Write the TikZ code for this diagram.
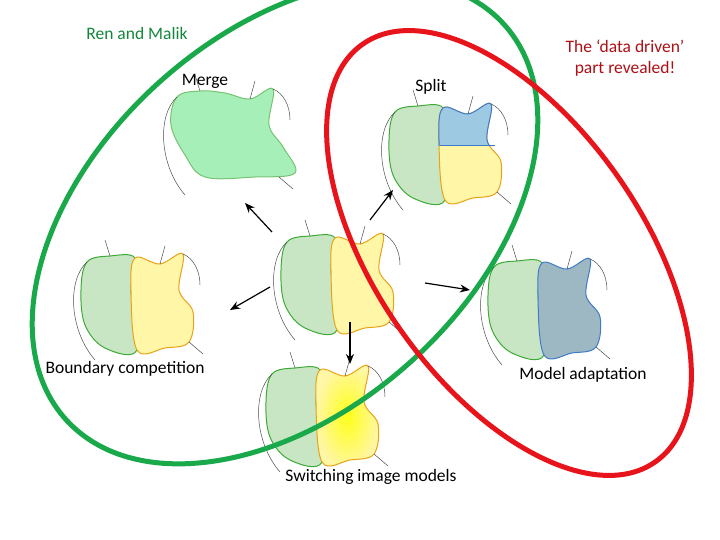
\documentclass[tikz,border=0pt]{standalone}
\usepackage{fontspec}
\setmainfont{Carlito}
\usetikzlibrary{arrows.meta}
\definecolor{lg}{HTML}{C8E6C4}\definecolor{dg}{HTML}{3DAA35}
\definecolor{ly}{HTML}{FFF6A8}\definecolor{dy}{HTML}{E8A317}
\definecolor{lb}{HTML}{9DC9E3}\definecolor{db}{HTML}{3E7CC9}
\definecolor{mg}{HTML}{A6EFB9}\definecolor{gb}{HTML}{9DB7C3}
\definecolor{eg}{HTML}{19A84A}\definecolor{er}{HTML}{E8141B}
\tikzset{lbl/.style={font=\fontsize{17.5}{21}\selectfont,align=center},
 arr/.style={-{Stealth[length=10pt,width=8pt]},line width=1.2pt},
 thin/.style={line width=0.5pt,black!70}}
\newcommand{\Lreg}{plot[smooth cycle,tension=0.6] coordinates{(12,12)(35,6)(60,8)(56,40)(62,100)(30,98)(10,75)(6,40)}}
\newcommand{\Rreg}{plot[smooth cycle,tension=0.6] coordinates{(60,8)(85,14)(108,4)(104,40)(118,62)(114,92)(90,98)(62,100)(56,40)}}
\newcommand{\strokes}{\draw[thin] (12,12) .. controls (-8,30) and (-6,80) .. (20,110);
 \draw[thin] (108,4) .. controls (118,8) and (125,20) .. (125,35);
 \draw[thin] (114,92) -- (128,104); \draw[thin] (35,6) -- (30,-10); \draw[thin] (85,14) -- (90,-4);}
\newcommand{\fig}[6]{\begin{scope}[shift={(#1,#2)}]
 \filldraw[fill=#3,draw=#4,line width=1pt] \Lreg;
 \filldraw[fill=#5,draw=#6,line width=1pt] \Rreg; \strokes\end{scope}}
\begin{document}
\begin{tikzpicture}[x=1pt,y=-1pt]
\useasboundingbox (0,0) rectangle (720,540);
% merge
\begin{scope}[shift={(165,85)}]
\filldraw[fill=mg,draw=dg!70,line width=1pt] plot[smooth cycle,tension=0.6] coordinates{(12,12)(35,6)(60,8)(85,14)(108,4)(104,40)(118,62)(130,88)(90,92)(40,92)(20,70)(6,40)};
\strokes\end{scope}
% split
\begin{scope}[shift={(383,100)}]
\filldraw[fill=lg,draw=dg,line width=1pt] \Lreg;
\filldraw[fill=ly,draw=dy,line width=1pt] \Rreg;
\begin{scope}\clip (50,-10) rectangle (130,46);
\filldraw[fill=lb,draw=db,line width=1pt] \Rreg;\end{scope}
\draw[db,line width=1pt] (57,46) -- (112,46);
\strokes\end{scope}
\fig{275}{230}{lg}{dg}{ly}{dy}
\fig{75}{250}{lg}{dg}{ly}{dy}
\fig{482}{255}{lg}{dg}{gb}{db}
\begin{scope}[shift={(260,362)}]
\filldraw[fill=lg,draw=dg,line width=1pt] \Lreg;
\shade[inner color=yellow!90,outer color=ly] \Rreg;
\draw[dy,line width=1pt] \Rreg; \strokes\end{scope}
% ellipses
\draw[eg,line width=5pt,rotate around={42:(285,222)}] (285,222) ellipse (295 and 188);
\draw[er,line width=5pt,rotate around={-55:(509,253)}] (509,253) ellipse (255 and 133);
% arrows
\coordinate (c1) at (272,232); \coordinate (m1) at (245,203);
\coordinate (c2) at (370,220); \coordinate (s1) at (393,190);
\coordinate (c3) at (270,287); \coordinate (b1) at (230,310);
\coordinate (c4) at (425,283); \coordinate (a1) at (470,290);
\coordinate (c5) at (350,322); \coordinate (w1) at (350,364);
\draw[arr] (c1) -- (m1); \draw[arr] (c2) -- (s1); \draw[arr] (c3) -- (b1);
\draw[arr] (c4) -- (a1); \draw[arr] (c5) -- (w1);
% labels
\node[lbl,text=eg!80!black] (ren) at (137,33) {Ren and Malik};
\node[lbl] (mer) at (205,81) {Merge};
\node[lbl] (spl) at (431,87) {Split};
\node[lbl,text=er!75!black] (dd) at (625,58) {The ‘data driven’\\part revealed!};
\node[lbl] (bc) at (125,369) {Boundary competition};
\node[lbl] (ma) at (583,375) {Model adaptation};
\node[lbl] (sw) at (371,477) {Switching image models};
\end{tikzpicture}
\end{document}
